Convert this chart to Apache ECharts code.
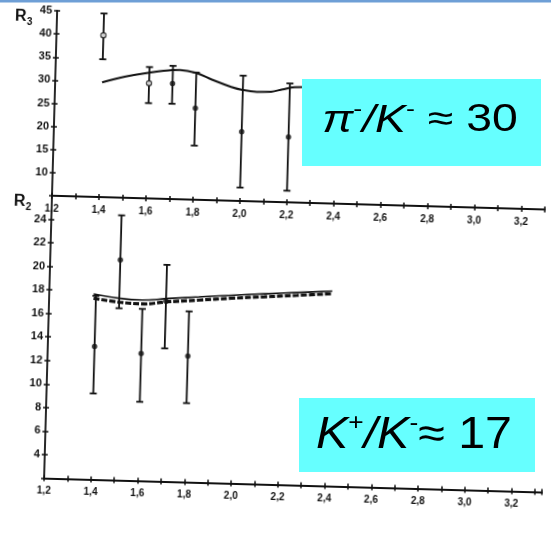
<!DOCTYPE html>
<html>
<head>
<meta charset="utf-8">
<script src="https://cdn.jsdelivr.net/npm/echarts@6/dist/echarts.min.js"></script>
<style>
  html, body { margin: 0; padding: 0; background: #fff; overflow: hidden; }
  #plot, #notes { position: absolute; left: 0; top: 0; width: 551px; height: 540px; }
  /* the scanned figure sits slightly tilted on the slide */
  #plot { transform: rotate(1.6deg); transform-origin: 275.5px 270px; }
  #notes { pointer-events: none; }
</style>
</head>
<body>
<div id="plot"></div>
<div id="notes"></div>
<script>
// ---- R3 panel (pi-/K- ratio) ----
const r3Mass  = [1.4, 1.6, 1.7, 1.8, 2.0, 2.2];
const r3Value = [40.0, 29.9, 30.0, 24.8, 20.0, 19.1];
const r3Low   = [34.8, 25.6, 25.6, 16.7, 7.9, 7.5];
const r3High  = [44.7, 33.4, 33.8, 32.5, 32.1, 30.7];
const r3CurveX = [1.4, 1.5, 1.6, 1.7, 1.73, 1.8, 1.87, 1.95, 2.0, 2.06, 2.12, 2.17, 2.22, 2.26, 2.3];
const r3CurveY = [29.8, 31.2, 32.2, 32.9, 32.95, 32.4, 31.0, 29.6, 29.0, 28.7, 28.8, 29.4, 29.9, 30.0, 30.1];

// ---- R2 panel (K+/K- ratio) ----
const r2Mass  = [1.4, 1.5, 1.6, 1.7, 1.8];
const r2Value = [13.3, 20.7, 12.8, 17.3, 12.7];
const r2Low   = [9.3, 16.6, 8.7, 13.3, 8.7];
const r2High  = [17.6, 24.5, 16.6, 20.4, 16.5];
const r2CurveX      = [1.39, 1.5, 1.6, 1.7, 1.84, 1.98, 2.12, 2.26, 2.41];
const r2SolidY      = [17.75, 17.45, 17.35, 17.53, 17.75, 17.97, 18.17, 18.36, 18.56];
const r2DashedY     = [17.38, 17.12, 17.02, 17.25, 17.48, 17.72, 17.92, 18.12, 18.34];

// ---- tick labels ----
const massLabels = ['1,2', '1,4', '1,6', '1,8', '2,0', '2,2', '2,4', '2,6', '2,8', '3,0', '3,2'];
const r3Ticks = [10, 15, 20, 25, 30, 35, 40, 45];
const r2Ticks = [4, 6, 8, 10, 12, 14, 16, 18, 20, 22, 24];

const INK = '#111';
const FONT = '"Liberation Sans", Arial, sans-serif';

function massLabel(v) {
  const k = Math.round((v - 1.2) * 10);
  if (Math.abs((v - 1.2) * 10 - k) > 0.01 || k % 2 !== 0) return '';
  return massLabels[k / 2] || '';
}

function xAxes(grid, max) {
  const base = {
    gridIndex: grid, type: 'value', min: 1.2, max: max, interval: 0.1,
    position: 'bottom', splitLine: { show: false }
  };
  return [
    Object.assign({}, base, {
      axisLine: { show: true, onZero: false, lineStyle: { color: INK, width: 1.8 } },
      axisTick: { show: true, length: 3, lineStyle: { color: INK, width: 1.5 } },
      axisLabel: { show: true, margin: 8, color: INK, fontSize: 10, fontWeight: 'bold',
                   fontFamily: FONT, formatter: massLabel }
    }),
    Object.assign({}, base, {
      axisLine: { show: false, onZero: false },
      axisTick: { show: true, inside: true, length: 3, lineStyle: { color: INK, width: 1.5 } },
      axisLabel: { show: false }
    })
  ];
}

function yAxes(grid, min, max, step, ticks) {
  const base = {
    gridIndex: grid, type: 'value', min: min, max: max, interval: step,
    position: 'left', splitLine: { show: false }
  };
  return [
    Object.assign({}, base, {
      axisLine: { show: true, onZero: false, lineStyle: { color: INK, width: 1.8 } },
      axisTick: { show: true, length: 3, lineStyle: { color: INK, width: 1.5 } },
      axisLabel: { show: true, margin: 5, color: INK, fontSize: 11, fontWeight: 'bold',
                   fontFamily: FONT,
                   formatter: v => ticks.indexOf(Math.round(v)) >= 0 ? String(Math.round(v)) : '' }
    }),
    Object.assign({}, base, {
      axisLine: { show: false, onZero: false },
      axisTick: { show: true, inside: true, length: 3, lineStyle: { color: INK, width: 1.5 } },
      axisLabel: { show: false }
    })
  ];
}

function errorBar(params, api) {
  const x = api.value(0);
  const lo = api.coord([x, api.value(1)]);
  const hi = api.coord([x, api.value(2)]);
  const half = 3.5;
  const style = { stroke: INK, lineWidth: 1.8 };
  return {
    type: 'group',
    children: [
      { type: 'line', shape: { x1: lo[0], y1: lo[1], x2: hi[0], y2: hi[1] }, style: style },
      { type: 'line', shape: { x1: hi[0] - half, y1: hi[1], x2: hi[0] + half, y2: hi[1] }, style: style },
      { type: 'line', shape: { x1: lo[0] - half, y1: lo[1], x2: lo[0] + half, y2: lo[1] }, style: style }
    ]
  };
}

const zip = (xs, ys) => xs.map((x, i) => [x, ys[i]]);
const bars = (xs, lo, hi) => xs.map((x, i) => [x, lo[i], hi[i]]);
// open circles for the first two R3 measurements
const openMarks = new Set([0, 1]);

const plot = echarts.init(document.getElementById('plot'), null, { renderer: 'canvas' });
plot.setOption({
  animation: false,
  grid: [
    { left: 50, top: 17, width: 493, height: 185 },
    { left: 50, top: 202, width: 501.6, height: 282.4 }
  ],
  xAxis: [].concat(xAxes(0, 3.3), xAxes(1, 3.33)),
  yAxis: [].concat(yAxes(0, 5, 45, 5, r3Ticks), yAxes(1, 2, 26, 2, r2Ticks)),
  graphic: [
    { type: 'text', left: 8, top: 16, style: { text: 'R', font: 'bold 16px ' + FONT, fill: INK } },
    { type: 'text', left: 20, top: 24, style: { text: '3', font: 'bold 10px ' + FONT, fill: INK } },
    { type: 'text', left: 12, top: 201, style: { text: 'R', font: 'bold 16px ' + FONT, fill: INK } },
    { type: 'text', left: 24, top: 209, style: { text: '2', font: 'bold 10px ' + FONT, fill: INK } }
  ],
  series: [
    {
      type: 'line', xAxisIndex: 0, yAxisIndex: 0, data: zip(r3CurveX, r3CurveY),
      smooth: 0.4, showSymbol: false, lineStyle: { color: INK, width: 2 }, z: 2
    },
    {
      type: 'custom', xAxisIndex: 0, yAxisIndex: 0, data: bars(r3Mass, r3Low, r3High),
      renderItem: errorBar, encode: { x: 0, y: [1, 2] }, z: 3
    },
    {
      type: 'scatter', xAxisIndex: 0, yAxisIndex: 0, symbol: 'circle', z: 4,
      data: r3Mass.map((x, i) => ({
        value: [x, r3Value[i]],
        symbolSize: openMarks.has(i) ? 5 : 5.5,
        itemStyle: openMarks.has(i)
          ? { color: '#fff', borderColor: INK, borderWidth: 1.4 }
          : { color: INK }
      }))
    },
    {
      type: 'line', xAxisIndex: 2, yAxisIndex: 2, data: zip(r2CurveX, r2DashedY),
      smooth: 0.4, showSymbol: false, lineStyle: { color: INK, width: 3.2, type: [6, 2] }, z: 2
    },
    {
      type: 'line', xAxisIndex: 2, yAxisIndex: 2, data: zip(r2CurveX, r2SolidY),
      smooth: 0.4, showSymbol: false, lineStyle: { color: INK, width: 1.6 }, z: 2
    },
    {
      type: 'custom', xAxisIndex: 2, yAxisIndex: 2, data: bars(r2Mass, r2Low, r2High),
      renderItem: errorBar, encode: { x: 0, y: [1, 2] }, z: 3
    },
    {
      type: 'scatter', xAxisIndex: 2, yAxisIndex: 2, symbol: 'circle', symbolSize: 5.5, z: 4,
      itemStyle: { color: INK },
      data: zip(r2Mass, r2Value)
    }
  ]
});

// ---- annotation boxes on the slide ----
const notes = echarts.init(document.getElementById('notes'), null, { renderer: 'canvas' });
const big = (size, italic) => ({
  fontSize: size, fontFamily: FONT, fontStyle: italic ? 'italic' : 'normal',
  fill: '#000', color: '#000', lineHeight: size + 6
});
const sup = size => ({
  fontSize: size, fontFamily: FONT, fill: '#000', color: '#000',
  lineHeight: size, verticalAlign: 'top'
});
notes.setOption({
  animation: false,
  graphic: [
    { type: 'rect', shape: { x: 0, y: 0, width: 551, height: 2.5 }, style: { fill: '#6e9fd6' } },
    { type: 'rect', shape: { x: 302, y: 79, width: 239, height: 87 }, style: { fill: '#66ffff' } },
    {
      type: 'text', x: 420, y: 121, scaleX: 1.22, scaleY: 1,
      style: {
        x: 0, y: 0,
        text: '{i|π}{s|-}{i|/K}{s|-}{n| ≈ 30}',
        align: 'center', verticalAlign: 'middle', textAlign: 'center', textVerticalAlign: 'middle',
        rich: { i: big(38, true), n: big(38, false), s: sup(22) }
      }
    },
    { type: 'rect', shape: { x: 299, y: 398, width: 236, height: 74 }, style: { fill: '#66ffff' } },
    {
      type: 'text', x: 414, y: 436, scaleX: 1.1, scaleY: 1,
      style: {
        x: 0, y: 0,
        text: '{i|K}{s|+}{i|/K}{s|-}{n|≈ 17}',
        align: 'center', verticalAlign: 'middle', textAlign: 'center', textVerticalAlign: 'middle',
        rich: { i: big(44, true), n: big(44, false), s: sup(24) }
      }
    }
  ]
});
</script>
</body>
</html>
